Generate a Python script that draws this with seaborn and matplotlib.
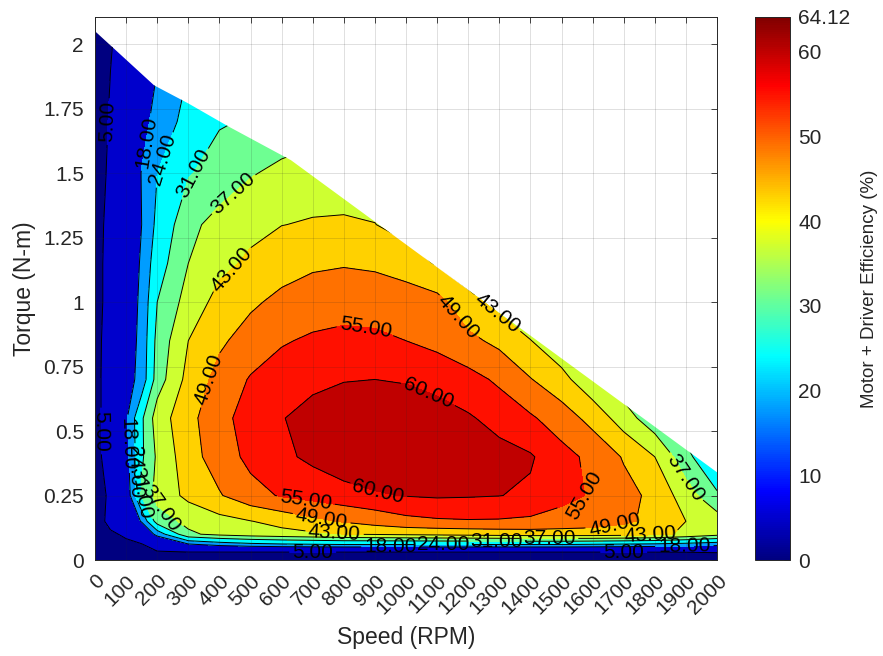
import numpy as np
import pandas as pd
import matplotlib
matplotlib.use("Agg")
import matplotlib.pyplot as plt
import seaborn as sns
from matplotlib.patches import Polygon
from matplotlib.colors import Normalize, LinearSegmentedColormap
from matplotlib.cm import ScalarMappable

# Measured motor + driver efficiency map (%), rows = torque, columns = speed
speed_rpm = [0, 50, 100, 150, 200, 300, 400, 500, 600, 700, 800, 900, 1000,
             1100, 1200, 1300, 1400, 1500, 1600, 1700, 1800, 1900, 2000]
torque_nm = [0.0, 0.03, 0.06, 0.10, 0.15, 0.25, 0.40, 0.55, 0.70, 0.85,
             1.00, 1.15, 1.30, 1.50, 1.70, 1.90, 2.10]

eff_t000 = [0] * 23
eff_t003 = [0, 0.8, 1.6, 2.5, 4.3, 4.7, 4.7, 4.7, 4.7, 4.7, 4.7, 4.7, 4.7, 4.7, 4.7, 4.7, 4.7, 4.7, 4.7, 4.7, 4.8, 5.0, 5.3]
eff_t006 = [0, 1.5, 3, 4.5, 9, 17, 20, 22, 23, 23.5, 24, 24, 24, 24, 24, 24, 24, 24, 23.5, 23, 22.5, 21.5, 20]
eff_t010 = [0, 3.5, 6.5, 11, 20, 36, 38.5, 40, 41, 42, 43, 43.5, 44, 44.5, 45, 45.5, 46, 46, 46, 45.5, 44.5, 42, 39]
eff_t015 = [0, 8, 12, 18.5, 34, 38.5, 41, 42.8, 45, 47.5, 49.5, 51.5, 53.5, 54.3, 54.6, 54.5, 54, 53, 52, 50, 47.5, 43, 40]
eff_t025 = [0, 7, 13, 32, 39, 44.5, 48.5, 53, 55.5, 57, 58.5, 59.5, 60.2, 60.6, 60.4, 60.1, 59.3, 56.5, 54.5, 51, 47.5, 40, 32]
eff_t040 = [0, 12, 15.5, 30, 38, 46.5, 52, 56.5, 59, 61, 62.5, 63.5, 64.12, 63.8, 62.5, 61.5, 60.5, 57, 53.5, 48.5, 43, 33, 24]
eff_t055 = [0, 13, 17, 30, 40, 47, 53.5, 57, 59.8, 61.5, 62.5, 63, 63, 62, 60.5, 58.5, 55.8, 52, 47, 40, 33, 27, 21]
eff_t070 = [0, 13, 15.5, 20, 34, 45, 51, 55.5, 57.5, 59, 59.8, 60, 59.6, 58.5, 57, 54, 49.3, 45, 38.5, 33, 28, 23, 18]
eff_t085 = [0, 12, 15, 19.5, 33, 43, 48, 51.5, 54.5, 55.8, 56.2, 55.8, 55, 53.5, 50.5, 47.5, 43.2, 38.5, 34, 29.5, 25, 20, 16]
eff_t100 = [0, 10, 15, 19, 31, 39.5, 45, 48, 50.5, 52.2, 53.2, 53.3, 52.5, 51, 45, 41, 37, 33, 29, 25, 21, 17, 13]
eff_t115 = [0, 10, 15, 18.5, 28, 37, 41.5, 44, 46.5, 48, 48.5, 47.8, 45.8, 42.5, 39, 35.5, 32, 28.5, 25, 21.5, 18, 14.5, 11]
eff_t130 = [0, 9, 14, 18, 25.5, 35.5, 39, 41.5, 42.9, 43.5, 43.6, 43.1, 41, 38, 35, 32, 29, 26, 23, 20, 17, 14, 11]
eff_t150 = [0, 7, 13, 18.2, 24, 30.5, 33.5, 36.5, 38.5, 40, 40.5, 40.5, 38, 35.5, 33, 30.5, 28, 25.5, 23, 20, 17, 14, 11]
eff_t170 = [0, 6, 11.5, 16.5, 19.5, 26.5, 30.5, 31.5, 33, 34, 34, 33, 32, 30, 28, 26, 24, 22, 20, 18, 16, 14, 12]
eff_t190 = [0, 5, 10, 14.5, 18, 24, 28, 30, 31, 31.5, 31.5, 31, 30, 28, 26, 24, 22, 20, 18, 16, 14, 12, 10]
eff_t210 = [0, 4, 8, 12, 15, 20, 24, 26, 27, 27.5, 27.5, 27, 26, 24, 22, 20, 18, 16, 14, 12, 10, 8, 6]

# Maximum torque the drive can deliver at each speed
envelope_speed = [0, 190, 300, 430, 630, 2000]
envelope_torque = [2.05, 1.84, 1.77, 1.68, 1.55, 0.34]

contour_levels = [5, 18, 24, 31, 37, 43, 49, 55, 60]
eff_max = 64.12

x_ticks = list(range(0, 2001, 100))
y_ticks = [0, 0.25, 0.5, 0.75, 1, 1.25, 1.5, 1.75, 2]
y_tick_labels = ["0", "0.25", "0.5", "0.75", "1", "1.25", "1.5", "1.75", "2"]
cbar_ticks = [0, 10, 20, 30, 40, 50, 60, 64.12]
cbar_tick_labels = ["0", "10", "20", "30", "40", "50", "60", "64.12"]

# Label anchor points per contour level (speed, torque)
label_spots = {
    5: [(32, 1.70), (16, 0.50), (700, 0.02), (1700, 0.02)],
    18: [(165, 1.62), (95, 0.45), (1895, 0.035), (950, 0.05)],
    24: [(222, 1.55), (120, 0.34), (1120, 0.055)],
    31: [(331, 1.48), (170, 0.26), (1290, 0.065)],
    37: [(444, 1.42), (235, 0.24), (1897, 0.32), (1460, 0.075)],
    43: [(444, 1.12), (1296, 0.96), (770, 0.10), (1785, 0.125)],
    49: [(363, 0.70), (1167, 0.94), (730, 0.17), (1670, 0.14)],
    55: [(868, 0.88), (680, 0.25), (1576, 0.24)],
    60: [(1067, 0.63), (910, 0.26)],
}

eff_table = pd.DataFrame(
    [eff_t000, eff_t003, eff_t006, eff_t010, eff_t015, eff_t025, eff_t040,
     eff_t055, eff_t070, eff_t085, eff_t100, eff_t115, eff_t130, eff_t150,
     eff_t170, eff_t190, eff_t210],
    index=torque_nm, columns=speed_rpm)

sns.set_style("white")
plt.rcParams["font.family"] = ["Liberation Sans", "DejaVu Sans"]
text_gray = (0.15, 0.15, 0.15)

fig = plt.figure(figsize=(8.83, 6.56), dpi=100)
ax = fig.add_axes([95 / 883, 96 / 656, 622 / 883, 543 / 656])
cax = fig.add_axes([755 / 883, 96 / 656, 35 / 883, 543 / 656])

S, T = np.meshgrid(eff_table.columns.values, eff_table.index.values)
Z = eff_table.values

# Classic MATLAB-style jet ramp
jet_classic = LinearSegmentedColormap.from_list(
    "jet_classic",
    [(0.0, (0, 0, 0.5)), (0.125, (0, 0, 1)), (0.375, (0, 1, 1)),
     (0.625, (1, 1, 0)), (0.875, (1, 0, 0)), (1.0, (0.5, 0, 0))], N=256)
norm = Normalize(0, eff_max)
fill_levels = [0] + contour_levels + [eff_max + 1e-6]
band_colors = [jet_classic(norm(v)) for v in fill_levels[:-1]]

region = Polygon(list(zip(envelope_speed, envelope_torque)) + [(2000, 0), (0, 0)],
                 closed=True, transform=ax.transData,
                 facecolor="none", edgecolor="none")
ax.add_patch(region)

filled = ax.contourf(S, T, Z, levels=fill_levels, colors=band_colors, zorder=1)
filled.set_clip_path(region)

# One line set per level so each label lands on its own iso-line
for lvl, spots in label_spots.items():
    iso = ax.contour(S, T, Z, levels=[lvl], colors="k", linewidths=0.7,
                     zorder=2)
    iso.set_clip_path(region)
    ax.clabel(iso, manual=spots, inline=True, inline_spacing=3,
              fmt="%.2f", fontsize=15, colors="k")

ax.set_xlim(0, 2000)
ax.set_ylim(0, 2.105)
ax.set_xticks(x_ticks)
ax.set_xticklabels([str(v) for v in x_ticks], rotation=45, ha="right",
                   rotation_mode="anchor")
ax.set_yticks(y_ticks)
ax.set_yticklabels(y_tick_labels)
ax.tick_params(direction="in", top=True, right=True, length=4, width=0.6,
               labelsize=15, colors=text_gray, labelcolor=text_gray, pad=8)
ax.set_axisbelow(False)
ax.grid(True, color=(0.15, 0.15, 0.15), alpha=0.17, linewidth=0.6)
for sp in ax.spines.values():
    sp.set_color(text_gray)
    sp.set_linewidth(0.7)
    sp.set_visible(True)
ax.set_xlabel("Speed (RPM)", fontsize=16.5, color=text_gray)
ax.set_ylabel("Torque (N-m)", fontsize=16.5, color=text_gray)
ax.xaxis.set_label_coords(0.5, -0.122)
ax.yaxis.set_label_coords(-0.095, 0.5)

sm = ScalarMappable(norm=norm, cmap=jet_classic)
cb = fig.colorbar(sm, cax=cax)
cb.set_ticks(cbar_ticks)
cb.set_ticklabels(cbar_tick_labels)
cb.ax.tick_params(direction="in", length=4, width=0.6, labelsize=15,
                  colors=text_gray, labelcolor=text_gray, pad=6)
cb.outline.set_edgecolor(text_gray)
cb.outline.set_linewidth(0.7)
cb.set_label("Motor + Driver Efficiency (%)", fontsize=13.5, color=text_gray)
cb.ax.yaxis.set_label_coords(3.03, 0.5)

fig.savefig("out.png", dpi=100, facecolor="white")
